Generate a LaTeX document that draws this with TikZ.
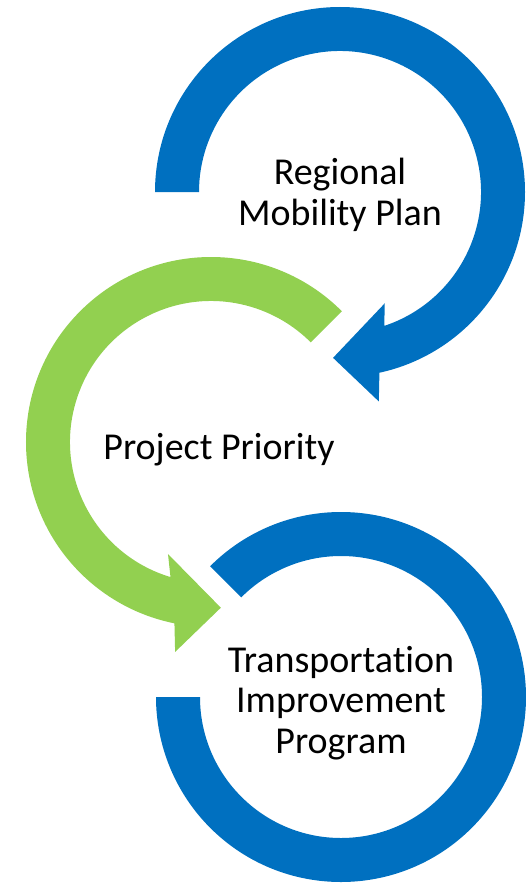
\documentclass[tikz,border=0pt]{standalone}
\usepackage{fontspec}
\setmainfont[Ligatures=NoCommon]{Carlito}
\usetikzlibrary{calc}
\definecolor{ringblue}{RGB}{0,112,192}
\definecolor{ringgreen}{RGB}{146,208,80}

\begin{document}
\begin{tikzpicture}[x=1pt,y=1pt]
	\tikzstyle{bluering}=[fill=ringblue];
	\tikzstyle{greenring}=[fill=ringgreen];
	\tikzstyle{steptext}=[align=center,inner sep=0pt,font=\fontsize{38}{40.5}\selectfont];
	\useasboundingbox(0,0)rectangle(526,-883);
	\coordinate(rmp)at(340,-192);
	\coordinate(pp)at(211,-442);
	\coordinate(tipc)at(341,-697);

	\fill[bluering]($(rmp)+(180:185)$)arc[start angle=180,end angle=-77.7,radius=185pt]
		--($(rmp)+(-79.5:213)$)--($(rmp)+(-92.4:166)$)--($(rmp)+(-68.1:120)$)
		--($(rmp)+(-71.7:141)$)arc[start angle=-71.7,end angle=180,radius=141pt]--cycle;

	\fill[greenring]($(pp)+(45:185)$)arc[start angle=45,end angle=258.6,radius=185pt]
		--($(pp)+(260.3:213)$)--($(pp)+(273.4:166)$)--($(pp)+(249:120)$)
		--($(pp)+(253.3:141)$)arc[start angle=253.3,end angle=45,radius=141pt]--cycle;

	\fill[bluering]($(tipc)+(135:185)$)arc[start angle=135,end angle=-180,radius=185pt]
		--($(tipc)+(-180:141)$)arc[start angle=-180,end angle=135,radius=141pt]--cycle;

	\node[steptext](rmpt)at($(rmp)+(0,-3)$){Regional\\Mobility Plan};
	\node[steptext](ppt)at($(pp)+(8,-8)$){Project Priority};
	\node[steptext](tipt)at($(tipc)+(0,-6)$){Transportation\\Improvement\\Program};
\end{tikzpicture}
\end{document}
